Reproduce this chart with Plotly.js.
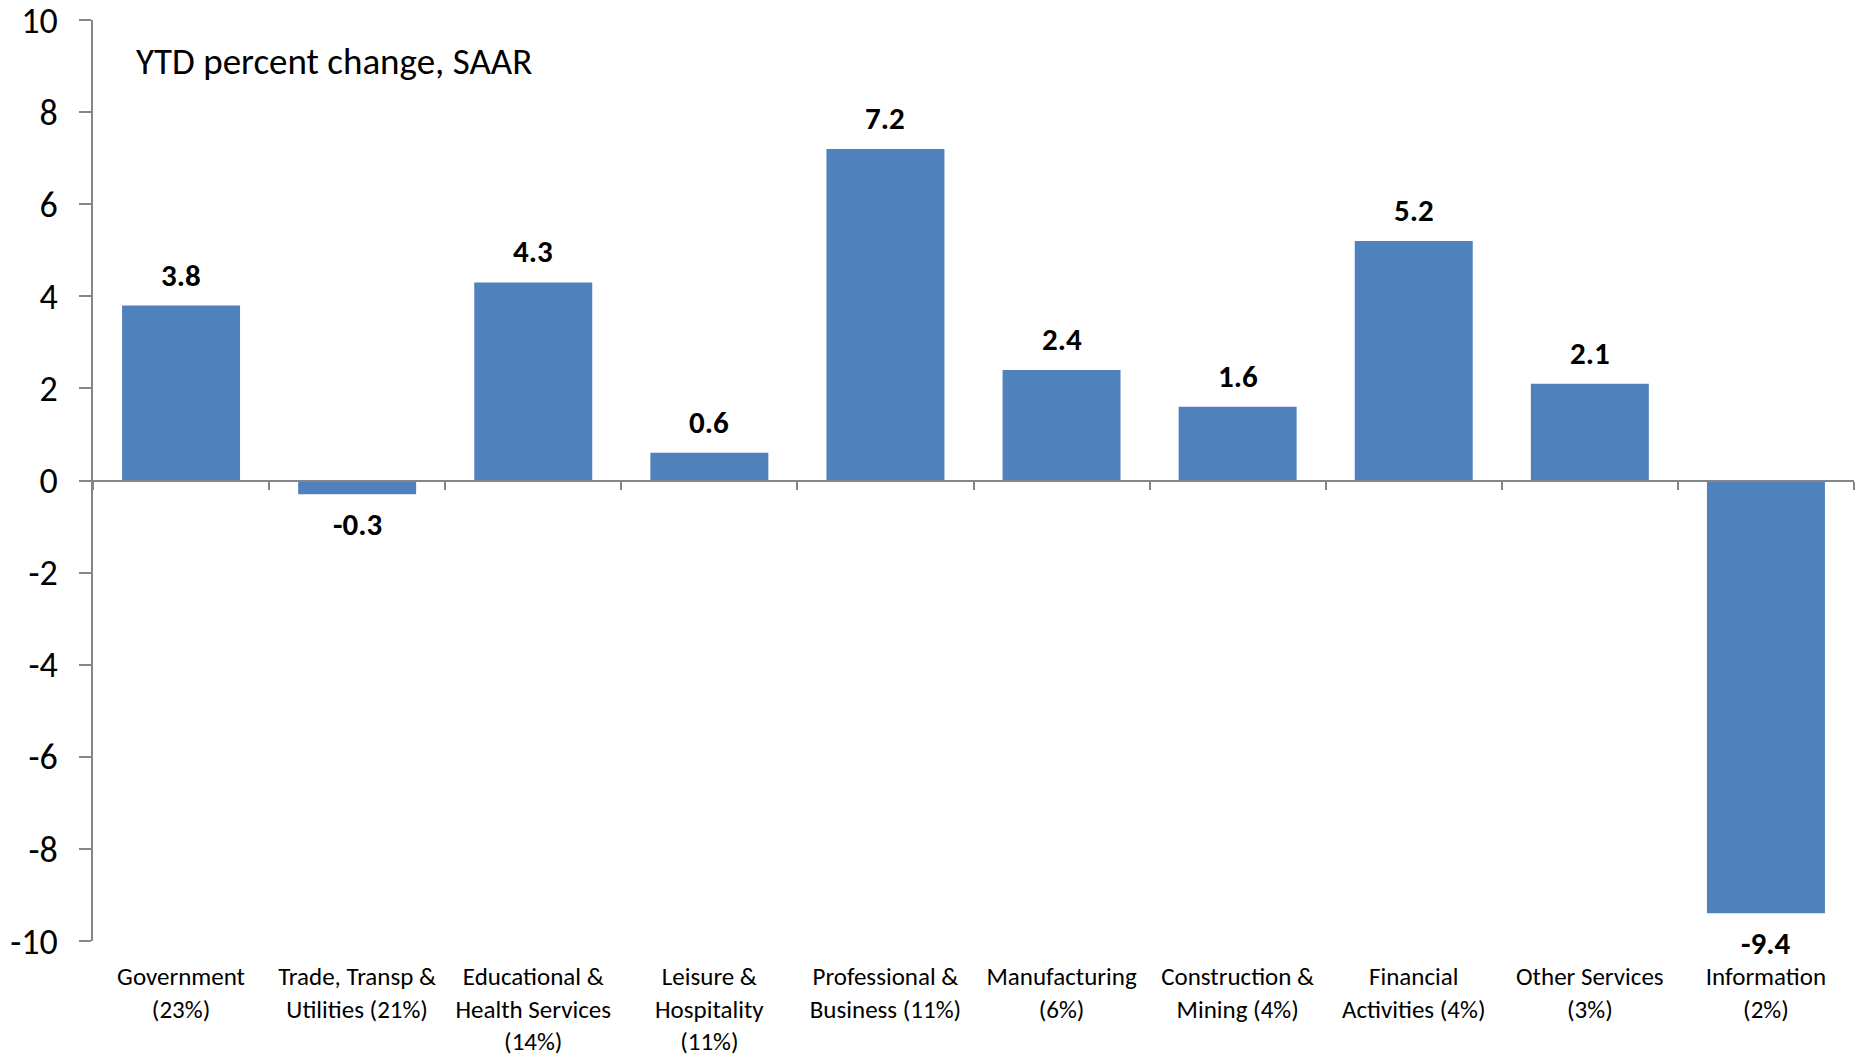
<!DOCTYPE html>
<html>
<head>
<meta charset="utf-8">
<script src="https://cdn.plot.ly/plotly-3.0.1.min.js"></script>
<style>html,body{margin:0;padding:0;background:#fff;}#chart{width:1855px;height:1056px;}</style>
</head>
<body>
<div id="chart"></div>
<script>
const categories = [
  "Government<br>(23%)",
  "Trade, Transp &<br>Utilities (21%)",
  "Educational &<br>Health Services<br>(14%)",
  "Leisure &<br>Hospitality<br>(11%)",
  "Professional &<br>Business (11%)",
  "Manufacturing<br>(6%)",
  "Construction &<br>Mining (4%)",
  "Financial<br>Activities (4%)",
  "Other Services<br>(3%)",
  "Information<br>(2%)"
];
const values = [3.8, -0.3, 4.3, 0.6, 7.2, 2.4, 1.6, 5.2, 2.1, -9.4];
const yTickVals = [-10, -8, -6, -4, -2, 0, 2, 4, 6, 8, 10];
const yTickText = ["-10", "-8", "-6", "-4", "-2", "0", "2", "4", "6", "8", "10"];
const yRange = [-10, 10];
const noteText = "YTD percent change, SAAR";

const FONT = "Carlito, Lato, sans-serif";
const GRAY = "#868686";
const BAR = "#4F81BD";

const traces = [
  {
    type: "bar",
    x: categories,
    y: values,
    xaxis: "x",
    yaxis: "y",
    marker: {color: BAR},
    hoverinfo: "skip",
    showlegend: false
  },
  {
    type: "scatter",
    mode: "markers",
    x: categories,
    y: values,
    xaxis: "x2",
    yaxis: "y",
    marker: {opacity: 0},
    hoverinfo: "skip",
    showlegend: false
  }
];

const annotations = values.map((v, i) => ({
  x: categories[i],
  y: v,
  xref: "x",
  yref: "y",
  text: "<b>" + v.toFixed(1) + "</b>",
  showarrow: false,
  xanchor: "center",
  yanchor: v >= 0 ? "bottom" : "top",
  yshift: v >= 0 ? 10 : -9,
  font: {family: FONT, size: 31, color: "#000"}
}));
annotations.push({
  text: noteText,
  xref: "paper", yref: "paper",
  x: 0.0233, y: 0.955,
  xanchor: "left", yanchor: "middle",
  showarrow: false,
  font: {family: FONT, size: 37, color: "#000"}
});

const layout = {
  width: 1855,
  height: 1056,
  paper_bgcolor: "#fff",
  plot_bgcolor: "#fff",
  margin: {l: 93, r: 1, t: 20, b: 115},
  bargap: 0.33,
  font: {family: FONT, color: "#000"},
  xaxis: {
    type: "category",
    categoryorder: "array",
    categoryarray: categories,
    range: [-0.5, categories.length - 0.5],
    showline: false,
    ticks: "",
    showgrid: false,
    zeroline: false,
    tickfont: {family: FONT, size: 25, color: "#000"},
    ticklabelstandoff: 18,
    tickangle: 0
  },
  xaxis2: {
    type: "category",
    categoryorder: "array",
    categoryarray: categories,
    range: [-0.5, categories.length - 0.5],
    overlaying: "x",
    anchor: "free",
    position: (0 - yRange[0]) / (yRange[1] - yRange[0]),
    side: "bottom",
    showline: true,
    linecolor: GRAY,
    linewidth: 2,
    ticks: "outside",
    tickson: "boundaries",
    ticklen: 8,
    tickwidth: 2,
    tickcolor: GRAY,
    showticklabels: false,
    showgrid: false,
    zeroline: false
  },
  yaxis: {
    range: yRange,
    tickmode: "array",
    tickvals: yTickVals,
    ticktext: yTickText,
    showline: true,
    linecolor: GRAY,
    linewidth: 2,
    ticks: "outside",
    ticklen: 12,
    tickwidth: 2,
    tickcolor: GRAY,
    showgrid: false,
    zeroline: false,
    tickfont: {family: FONT, size: 36, color: "#000"},
    ticklabelstandoff: 14,
    ticklabeloverflow: "allow"
  },
  annotations: annotations
};

Plotly.newPlot("chart", traces, layout, {displayModeBar: false, staticPlot: true});
</script>
</body>
</html>
